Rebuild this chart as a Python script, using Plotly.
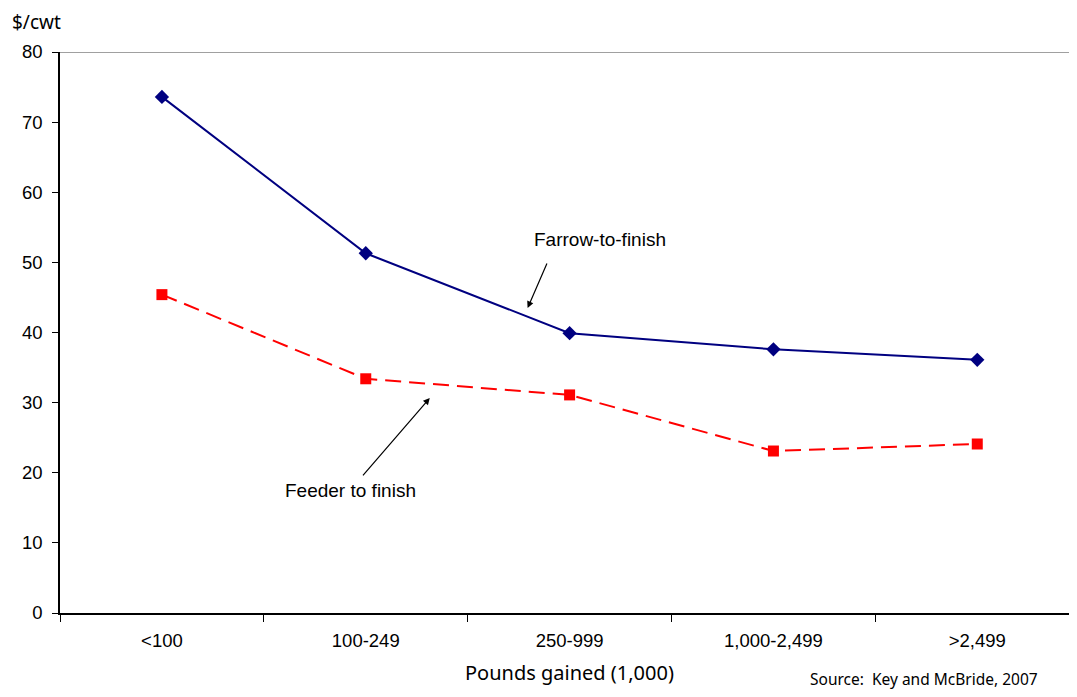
import plotly.graph_objects as go

categories = ["<100", "100-249", "250-999", "1,000-2,499", ">2,499"]
farrow_to_finish = [73.6, 51.3, 39.9, 37.6, 36.1]
feeder_to_finish = [45.4, 33.4, 31.1, 23.1, 24.1]
y_ticks = [0, 10, 20, 30, 40, 50, 60, 70, 80]

W, H = 1061, 681
L, T, B, R = 52, 44, 76, 0
PW, PH = W - L - R, H - T - B


def px(x):
    return (x - L) / PW


def py(y):
    return (H - B - y) / PH


fig = go.Figure()
fig.add_trace(go.Scatter(
    x=categories, y=farrow_to_finish, mode="lines+markers", name="Farrow-to-finish",
    line=dict(color="#000080", width=2),
    marker=dict(symbol="diamond", size=11, color="#000080"),
))
fig.add_trace(go.Scatter(
    x=categories, y=feeder_to_finish, mode="lines+markers", name="Feeder to finish",
    line=dict(color="#FF0000", width=2, dash="16px,8px"),
    marker=dict(symbol="square", size=11, color="#FF0000"),
))

fig.add_shape(type="line", xref="paper", yref="y", x0=0, x1=1, y0=80, y1=80,
              line=dict(color="#808080", width=1.5))

tick_font = dict(family="Liberation Sans, Arial, sans-serif", size=18.5, color="black")
ann_font = dict(family="Liberation Sans, Arial, sans-serif", size=19, color="black")
cal_font = "Noto Sans, Open Sans, sans-serif"

fig.add_annotation(x=1.794, y=43.5, ax=1.892, ay=50.05, xref="x", yref="y", axref="x", ayref="y",
                   showarrow=True, arrowhead=2, arrowsize=1.1, arrowwidth=1.2, arrowcolor="black", text="")
fig.add_annotation(x=2.147, y=53.2, xref="x", yref="y", text="Farrow-to-finish", showarrow=False,
                   font=ann_font)
fig.add_annotation(x=1.314, y=30.66, ax=0.98, ay=19.4, xref="x", yref="y", axref="x", ayref="y",
                   showarrow=True, arrowhead=2, arrowsize=1.1, arrowwidth=1.2, arrowcolor="black", text="")
fig.add_annotation(x=0.926, y=17.4, xref="x", yref="y", text="Feeder to finish", showarrow=False,
                   font=ann_font)

fig.add_annotation(x=px(3), y=py(14), xref="paper", yref="paper", xanchor="left", yanchor="middle",
                   text="$/cwt", showarrow=False, borderpad=0,
                   font=dict(family=cal_font, size=19, color="black"))
fig.add_annotation(x=px(561), y=py(664), xref="paper", yref="paper", xanchor="center", yanchor="middle",
                   text="Pounds gained (1,000)", showarrow=False,
                   font=dict(family=cal_font, size=20, color="black"))
fig.add_annotation(x=px(1032), y=py(671), xref="paper", yref="paper", xanchor="right", yanchor="middle",
                   text="Source:  Key and McBride, 2007", showarrow=False,
                   font=dict(family=cal_font, size=15.5, color="black"))

fig.update_layout(
    width=W, height=H,
    margin=dict(l=L, r=R, t=T, b=B),
    paper_bgcolor="white", plot_bgcolor="white",
    showlegend=False,
    xaxis=dict(
        type="category", range=[-0.5, 4.45], tickson="boundaries",
        ticks="outside", ticklen=7, tickcolor="black", tickwidth=1,
        showline=True, linecolor="black", linewidth=1.5, showgrid=False,
        tickfont=tick_font, ticklabelstandoff=10,
    ),
    yaxis=dict(
        range=[0, 80], tickvals=y_ticks, ticks="outside", ticklen=6, tickcolor="black",
        showline=True, linecolor="black", linewidth=1.5, showgrid=False, zeroline=False,
        tickfont=tick_font, ticklabelstandoff=6,
    ),
)

fig.write_html("out.html")
